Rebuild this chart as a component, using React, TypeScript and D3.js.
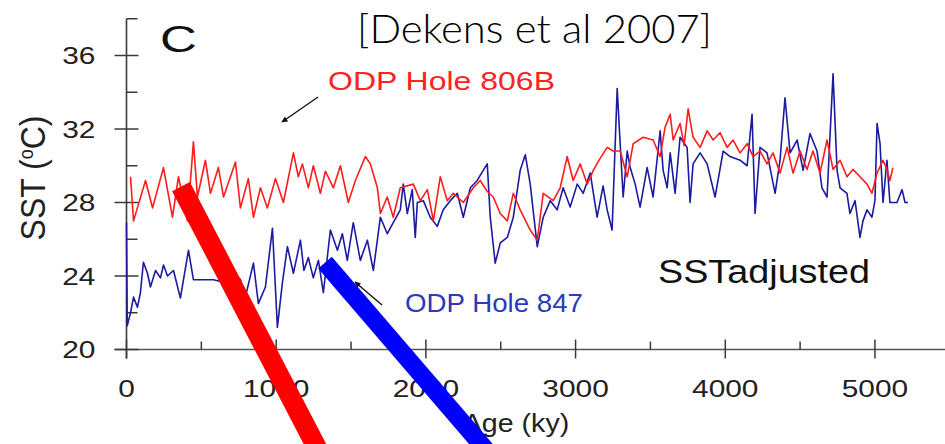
import React from 'react';
import * as d3 from 'd3';

// ODP Hole 806B (red)
const redAge = [27, 47, 127, 174, 247, 307, 347, 407, 447, 474, 527, 561, 614, 648, 728, 761, 814, 848, 895, 941, 995, 1048, 1115, 1148, 1175, 1215, 1248, 1295, 1329, 1382, 1429, 1482, 1529, 1596, 1629, 1676, 1696, 1742, 1782, 1829, 1916, 1963, 2010, 2050, 2096, 2143, 2183, 2250, 2317, 2363, 2410, 2450, 2497, 2544, 2584, 2630, 2697, 2744, 2784, 2851, 2897, 2944, 2984, 3031, 3078, 3118, 3164, 3211, 3251, 3298, 3345, 3385, 3451, 3518, 3565, 3598, 3632, 3652, 3698, 3725, 3752, 3785, 3832, 3879, 3919, 3965, 4012, 4052, 4099, 4146, 4186, 4232, 4279, 4319, 4366, 4413, 4453, 4500, 4546, 4586, 4633, 4680, 4720, 4767, 4813, 4853, 4900, 4947, 4980, 5014, 5054, 5080, 5100, 5120];
const redSST = [29.4, 27.0, 29.2, 27.7, 29.9, 27.2, 29.4, 27.0, 31.3, 28.3, 30.3, 28.5, 29.9, 28.3, 30.2, 27.7, 29.3, 27.2, 28.8, 27.7, 29.3, 28.0, 30.7, 29.4, 30.1, 28.8, 30.0, 28.5, 29.7, 28.8, 30.0, 28.0, 29.2, 30.5, 30.1, 28.8, 27.4, 28.3, 27.2, 28.8, 29.0, 28.1, 28.7, 27.0, 29.4, 28.1, 28.5, 28.0, 28.8, 29.2, 28.6, 28.3, 27.4, 27.0, 28.5, 27.6, 26.5, 25.95, 28.5, 28.1, 28.8, 30.5, 29.2, 30.1, 29.0, 29.75, 30.4, 31.0, 30.8, 30.8, 29.4, 31.2, 31.55, 31.4, 30.5, 32.1, 32.8, 31.4, 32.3, 31.1, 33.1, 31.55, 31.0, 31.9, 31.4, 31.8, 31.0, 31.4, 30.7, 31.2, 30.5, 30.8, 30.1, 30.7, 29.6, 31.0, 29.6, 30.8, 29.8, 30.8, 29.6, 31.4, 29.8, 30.3, 29.4, 29.8, 29.4, 29.0, 28.5, 29.6, 30.3, 29.8, 29.2, 29.9];

// ODP Hole 847 (blue)
const blueAge = [0, 5, 27, 47, 73, 93, 113, 140, 160, 194, 227, 247, 274, 314, 360, 414, 447, 494, 581, 628, 714, 761, 794, 848, 881, 928, 975, 1008, 1041, 1075, 1115, 1162, 1185, 1215, 1248, 1282, 1315, 1362, 1409, 1442, 1475, 1515, 1562, 1609, 1649, 1696, 1742, 1782, 1829, 1849, 1876, 1909, 1929, 1943, 1983, 2029, 2076, 2116, 2163, 2210, 2250, 2297, 2343, 2383, 2410, 2430, 2463, 2497, 2544, 2584, 2630, 2664, 2697, 2744, 2784, 2831, 2877, 2917, 2964, 3011, 3051, 3098, 3144, 3184, 3211, 3244, 3278, 3298, 3318, 3345, 3365, 3398, 3431, 3478, 3518, 3565, 3585, 3612, 3632, 3665, 3698, 3745, 3765, 3785, 3832, 3879, 3932, 3986, 4032, 4099, 4146, 4179, 4199, 4232, 4279, 4333, 4366, 4399, 4433, 4480, 4520, 4566, 4613, 4646, 4680, 4720, 4747, 4767, 4813, 4833, 4867, 4900, 4920, 4947, 4980, 5000, 5014, 5034, 5054, 5080, 5100, 5147, 5181, 5201, 5221];
const blueSST = [26.9, 21.3, 22.0, 22.85, 22.3, 23.1, 24.75, 24.15, 23.4, 24.3, 23.9, 24.6, 24.0, 24.3, 22.8, 25.4, 23.8, 23.8, 23.8, 23.7, 24.15, 23.8, 22.85, 24.7, 22.5, 23.4, 26.6, 21.2, 23.6, 25.6, 24.15, 25.95, 24.3, 25.0, 23.9, 24.85, 23.1, 26.5, 25.4, 26.3, 24.85, 26.9, 24.85, 25.95, 24.3, 27.2, 26.3, 26.9, 27.6, 29.0, 27.4, 28.7, 26.1, 28.0, 28.1, 27.2, 26.7, 27.6, 28.1, 28.5, 27.2, 28.8, 29.2, 29.75, 30.1, 27.2, 24.7, 25.8, 26.1, 27.2, 29.75, 30.6, 29.0, 25.6, 27.2, 28.1, 27.6, 28.8, 27.75, 29.0, 28.5, 29.6, 27.2, 28.9, 27.6, 26.5, 34.2, 31.2, 28.3, 30.8, 29.9, 29.0, 27.75, 29.9, 28.3, 31.9, 29.75, 28.8, 30.7, 28.5, 31.55, 31.0, 28.0, 30.1, 30.7, 30.1, 28.3, 30.8, 30.5, 30.3, 30.0, 32.8, 27.4, 31.0, 30.7, 28.5, 30.3, 33.7, 30.7, 31.4, 29.75, 31.75, 30.8, 28.8, 28.3, 35.0, 29.75, 28.8, 28.5, 27.4, 28.1, 26.1, 27.0, 27.6, 27.2, 28.1, 32.3, 31.2, 28.0, 30.3, 28.0, 28.0, 28.7, 28.0, 28.0];

const yMajor = [20, 24, 28, 32, 36];
const yMinor = [22, 26, 30, 34, 38];
const xMajor = [0, 1000, 2000, 3000, 4000, 5000];
const xMinor = [500, 1500, 2500, 3500, 4500];

// overlaid trend strokes (age, SST)
const redTrendAge = [364, 1316];
const redTrendSST = [28.87, 13.96];
const blueTrendAge = [1326, 2462];
const blueTrendSST = [24.73, 13.96];

export default function App() {
  const W = 945, H = 444;
  const x = d3.scaleLinear().domain([0, 5500]).range([126.5, 949.8]);
  const y = d3.scaleLinear().domain([20, 38]).range([349.5, 18.75]);
  const mk = (ages: number[], vals: number[]) =>
    d3.line<number>().x((_, i) => x(ages[i])).y((_, i) => y(vals[i]))(ages.map((_, i) => i)) || '';
  const axisColor = '#3a3a3a';
  const sans = '"Liberation Sans", Arial, sans-serif';
  const sx = 1.3;
  return (
    <svg width={W} height={H} style={{ position: 'absolute', left: 0, top: 0, background: '#fff' }} fontFamily={sans}>
      <rect width={W} height={H} fill="#fff" />
      {/* axes */}
      <line x1={x(0)} x2={x(0)} y1={y(38)} y2={y(20) + 9} stroke={axisColor} strokeWidth={1.6} />
      <line x1={x(0) - 12} x2={W} y1={y(20)} y2={y(20)} stroke="#555" strokeWidth={1.6} />
      {yMajor.map(v => (
        <line key={'ym' + v} x1={x(0) - 12} x2={x(0) + 12} y1={y(v)} y2={y(v)} stroke={axisColor} strokeWidth={1.5} />
      ))}
      {yMinor.map(v => (
        <line key={'yn' + v} x1={x(0)} x2={x(0) + 11} y1={y(v)} y2={y(v)} stroke={axisColor} strokeWidth={1.5} />
      ))}
      {xMajor.map(v => (
        <line key={'xm' + v} x1={x(v)} x2={x(v)} y1={y(20) - 10} y2={y(20) + 9} stroke={axisColor} strokeWidth={1.5} />
      ))}
      {xMinor.map(v => (
        <line key={'xn' + v} x1={x(v)} x2={x(v)} y1={y(20) - 8} y2={y(20)} stroke={axisColor} strokeWidth={1.5} />
      ))}
      {yMajor.map(v => (
        <text key={'yl' + v} transform={`translate(${x(0) - 31},${y(v) + 8.5}) scale(${sx},1)`} textAnchor="end" fontSize={23} fill="#222">{v}</text>
      ))}
      {xMajor.map(v => (
        <text key={'xl' + v} transform={`translate(${x(v)},${y(20) + 47}) scale(${sx},1)`} textAnchor="middle" fontSize={23} fill="#222">{v}</text>
      ))}
      <text transform={`translate(45,178) rotate(-90) scale(1,1.1)`} textAnchor="middle" fontSize={32} fill="#222">
        SST (<tspan fontSize={18} dy={-11}>o</tspan><tspan dy={11}>C)</tspan>
      </text>
      <text transform={`translate(516,432) scale(1.1,1)`} textAnchor="middle" fontSize={26} fill="#222">Age (ky)</text>
      <text transform={`translate(160,52) scale(1.38,1)`} fontSize={37} fill="#111">C</text>
      {/* data */}
      <path d={mk(blueAge, blueSST)} fill="none" stroke="#1b1ba0" strokeWidth={1.6} strokeLinejoin="round" />
      <path d={mk(redAge, redSST)} fill="none" stroke="#ff1c1c" strokeWidth={1.6} strokeLinejoin="round" />
      {/* annotations */}
      <text x={328} y={90} fontSize={25} fill="#ff2222" textLength={227} lengthAdjust="spacingAndGlyphs">ODP Hole 806B</text>
      <text x={405} y={312} fontSize={25} fill="#2a3ab8" textLength={178} lengthAdjust="spacingAndGlyphs">ODP Hole 847</text>
      <text x={658} y={283} fontSize={33} fill="#111" textLength={212} lengthAdjust="spacingAndGlyphs">SSTadjusted</text>
      <text x={357} y={43} fontSize={40} fontFamily="Lato, 'Open Sans', sans-serif" fontWeight={300} fill="#000" textLength={355} lengthAdjust="spacingAndGlyphs">[Dekens et al 2007]</text>
      <defs>
        <marker id="ah" viewBox="0 0 10 10" refX="9" refY="5" markerWidth="7" markerHeight="6" orient="auto-start-reverse" markerUnits="userSpaceOnUse">
          <path d="M0,0 L10,5 L0,10 z" fill="#111" />
        </marker>
      </defs>
      <line x1={318} y1={97} x2={282} y2={122} stroke="#111" strokeWidth={1.4} markerEnd="url(#ah)" />
      <line x1={382} y1={305} x2={355} y2={282} stroke="#111" strokeWidth={1.4} markerEnd="url(#ah)" />
      {/* overlaid thick trend lines */}
      <path d={mk(redTrendAge, redTrendSST)} stroke="#ff0000" strokeWidth={20} fill="none" />
      <path d={mk(blueTrendAge, blueTrendSST)} stroke="#0000ff" strokeWidth={18} fill="none" />
    </svg>
  );
}
